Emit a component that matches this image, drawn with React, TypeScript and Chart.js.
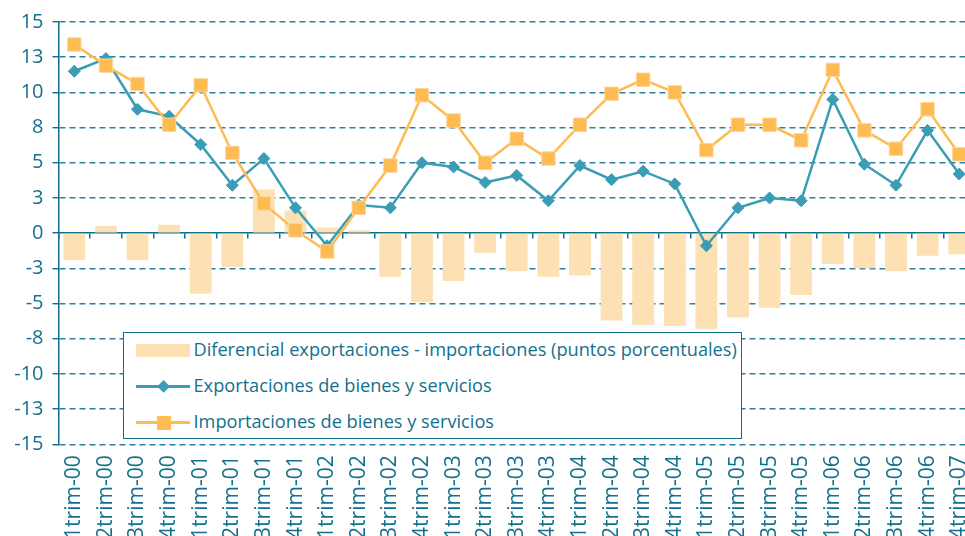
import React, { useEffect, useRef } from 'react';
import { Chart, registerables } from 'chart.js';

Chart.register(...registerables);

const categories = [
  '1trim-00', '2trim-00', '3trim-00', '4trim-00',
  '1trim-01', '2trim-01', '3trim-01', '4trim-01',
  '1trim-02', '2trim-02', '3trim-02', '4trim-02',
  '1trim-03', '2trim-03', '3trim-03', '4trim-03',
  '1trim-04', '2trim-04', '3trim-04', '4trim-04',
  '1trim-05', '2trim-05', '3trim-05', '4trim-05',
  '1trim-06', '2trim-06', '3trim-06', '4trim-06',
  '4trim-07',
];

const diffLabel = 'Diferencial exportaciones - importaciones (puntos porcentuales)';
const exportsLabel = 'Exportaciones de bienes y servicios';
const importsLabel = 'Importaciones de bienes y servicios';

const diffData = [
  -1.9, 0.5, -1.9, 0.6, -4.3, -2.4, 3.1, 1.6, 0.4, 0.2,
  -3.1, -4.9, -3.4, -1.4, -2.7, -3.1, -3.0, -6.2, -6.5, -6.6,
  -6.8, -6.0, -5.3, -4.4, -2.2, -2.5, -2.7, -1.6, -1.5,
];

const exportsData = [
  11.5, 12.4, 8.8, 8.3, 6.3, 3.4, 5.3, 1.8, -0.9, 2.0,
  1.8, 5.0, 4.7, 3.6, 4.1, 2.3, 4.8, 3.8, 4.4, 3.5,
  -0.9, 1.8, 2.5, 2.3, 9.5, 4.9, 3.4, 7.3, 4.2,
];

const importsData = [
  13.4, 11.9, 10.6, 7.7, 10.5, 5.7, 2.1, 0.2, -1.3, 1.8,
  4.8, 9.8, 8.0, 5.0, 6.7, 5.3, 7.7, 9.9, 10.9, 10.0,
  5.9, 7.7, 7.7, 6.6, 11.6, 7.3, 6.0, 8.8, 5.6,
];

const yMin = -15;
const yMax = 15;
const yStep = 2.5;

const FONT = "'Open Sans', 'Noto Sans', sans-serif";
const TEXT = '#14708c';
const AXIS = '#0f6e8c';
const GRID = '#2f809c';
const BLUE = '#3a9db6';
const ORANGE = '#fdbb52';
const PEACH = '#fde0b3';

function fmtTick(v: number | string) {
  const n = Number(v);
  const r = Math.sign(n) * Math.round(Math.abs(n));
  return String(r === 0 ? 0 : r);
}

export default function App() {
  const ref = useRef<HTMLCanvasElement>(null);

  useEffect(() => {
    if (!ref.current) return;
    const chart = new Chart(ref.current, {
      type: 'bar',
      data: {
        labels: categories,
        datasets: [
          {
            type: 'line',
            label: importsLabel,
            data: importsData,
            borderColor: ORANGE,
            backgroundColor: ORANGE,
            borderWidth: 2.5,
            pointStyle: 'rect',
            pointRadius: 9.5,
            pointBackgroundColor: ORANGE,
            pointBorderColor: '#fed69c',
            pointBorderWidth: 1,
            tension: 0,
            order: 0,
          } as any,
          {
            type: 'line',
            label: exportsLabel,
            data: exportsData,
            borderColor: BLUE,
            backgroundColor: BLUE,
            borderWidth: 2.5,
            pointStyle: 'rectRot',
            pointRadius: 6,
            pointBackgroundColor: BLUE,
            pointBorderColor: BLUE,
            pointBorderWidth: 1,
            tension: 0,
            order: 1,
          } as any,
          {
            type: 'bar',
            label: diffLabel,
            data: diffData,
            backgroundColor: PEACH,
            borderWidth: 0,
            barPercentage: 0.69,
            categoryPercentage: 1,
            order: 2,
          } as any,
        ],
      },
      options: {
        responsive: false,
        animation: false,
        layout: { autoPadding: false, padding: { top: 22, left: 0, right: 0, bottom: 0 } },
        plugins: {
          legend: { display: false },
          tooltip: { enabled: false },
        },
        scales: {
          x: {
            type: 'category',
            position: 'bottom',
            offset: true,
            grid: { display: false, drawTicks: false, offset: true },
            border: { display: false },
            ticks: {
              autoSkip: false,
              maxRotation: 90,
              minRotation: 90,
              padding: 11,
              color: TEXT,
              font: { family: FONT, size: 21 },
            },
            afterFit: (s: any) => {
              s.height = 115.7;
              s.paddingLeft = 0;
              s.paddingRight = 0;
            },
          },
          x2: {
            type: 'category',
            axis: 'x',
            position: { y: 0 },
            offset: true,
            grid: {
              display: true,
              offset: true,
              drawOnChartArea: false,
              drawTicks: true,
              tickLength: 5,
              tickWidth: 1.5,
              tickColor: AXIS,
              color: AXIS,
              lineWidth: 1.5,
            },
            border: { display: true, color: AXIS, width: 1.5 },
            ticks: { display: false },
            afterFit: (s: any) => {
              s.paddingLeft = 0;
              s.paddingRight = 0;
            },
          } as any,
          y: {
            type: 'linear',
            min: yMin,
            max: yMax,
            ticks: {
              stepSize: yStep,
              maxTicksLimit: 20,
              padding: 9,
              color: TEXT,
              font: { family: FONT, size: 20 },
              callback: (v: any) => fmtTick(v),
            },
            grid: {
              color: (ctx: any) => (ctx.tick && ctx.tick.value === 0 ? 'rgba(0,0,0,0)' : GRID),
              lineWidth: 1.4,
              drawTicks: true,
              tickLength: 6,
              tickColor: AXIS,
              tickWidth: 1.4,
            },
            border: { display: true, color: AXIS, width: 1.5, dash: [6, 4] },
            afterFit: (s: any) => {
              s.width = 58.5;
            },
          },
        },
      } as any,
    });
    return () => chart.destroy();
  }, []);

  const rowText: React.CSSProperties = {
    position: 'absolute',
    left: 70,
    lineHeight: '24px',
    whiteSpace: 'nowrap',
  };

  return (
    <div
      style={{
        position: 'fixed',
        left: 0,
        top: 0,
        width: 965,
        height: 536,
        overflow: 'hidden',
        background: '#ffffff',
      }}
    >
      <canvas ref={ref} width={975} height={560} style={{ width: 975, height: 560, display: 'block' }} />
      <div
        style={{
          position: 'absolute',
          left: 122.5,
          top: 332,
          width: 619,
          height: 106.5,
          boxSizing: 'border-box',
          border: `1.5px solid ${AXIS}`,
          background: '#ffffff',
          fontFamily: FONT,
          fontSize: 18.2,
          color: TEXT,
        }}
      >
        <div style={{ position: 'absolute', left: 12.7, top: 10.5, width: 54, height: 13, background: PEACH }} />
        <div style={{ ...rowText, top: 4.2 }}>{diffLabel}</div>

        <div style={{ position: 'absolute', left: 12, top: 52.3, width: 54, height: 2.5, background: BLUE }} />
        <div
          style={{
            position: 'absolute',
            left: 40 - 4.6 + 0.5,
            top: 53.5 - 4.6,
            width: 9.2,
            height: 9.2,
            background: BLUE,
            transform: 'rotate(45deg)',
          }}
        />
        <div style={{ ...rowText, top: 40.2 }}>{exportsLabel}</div>

        <div style={{ position: 'absolute', left: 12, top: 88.3, width: 54, height: 2.5, background: ORANGE }} />
        <div
          style={{
            position: 'absolute',
            left: 40 - 7 + 0.5,
            top: 89.5 - 7,
            width: 14,
            height: 14,
            background: ORANGE,
          }}
        />
        <div style={{ ...rowText, top: 76.2 }}>{importsLabel}</div>
      </div>
    </div>
  );
}
